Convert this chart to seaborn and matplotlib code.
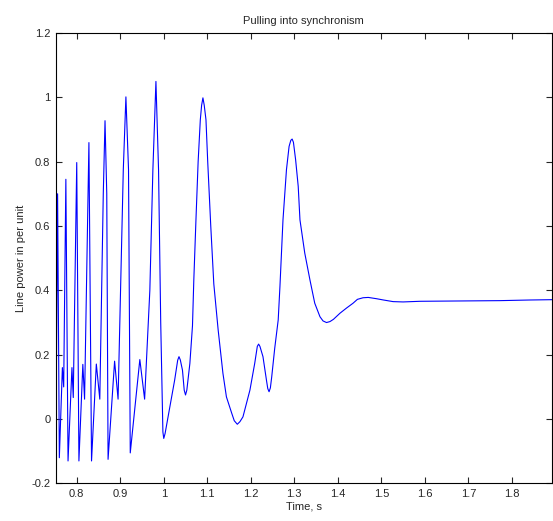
import numpy as np
import pandas as pd
import matplotlib
matplotlib.use("Agg")
import matplotlib.pyplot as plt
import seaborn as sns

# values
time_s = [0.753, 0.756, 0.760, 0.767, 0.770, 0.775, 0.780, 0.789, 0.792, 0.800,
          0.805, 0.814, 0.818, 0.828, 0.834, 0.845, 0.853, 0.861, 0.865, 0.869,
          0.872, 0.887, 0.895, 0.907, 0.913, 0.919, 0.923, 0.945, 0.956, 0.968,
          0.975, 0.982, 0.988, 0.993, 0.998, 1.000, 1.003, 1.014, 1.025, 1.032,
          1.035, 1.038, 1.043, 1.047, 1.050, 1.053, 1.060, 1.066, 1.069, 1.074,
          1.079, 1.084, 1.087, 1.090, 1.093, 1.097, 1.101, 1.108, 1.115, 1.125,
          1.136, 1.144, 1.156, 1.162, 1.169, 1.175, 1.182, 1.198, 1.209, 1.215,
          1.218, 1.221, 1.228, 1.236, 1.239, 1.242, 1.245, 1.248, 1.255, 1.263,
          1.267, 1.274, 1.282, 1.288, 1.292, 1.295, 1.298, 1.303, 1.309, 1.313,
          1.324, 1.336, 1.347, 1.359, 1.366, 1.374, 1.382, 1.390, 1.405, 1.420,
          1.435, 1.445, 1.458, 1.470, 1.489, 1.505, 1.527, 1.550, 1.589, 1.680,
          1.772, 1.841, 1.892]
power_pu = [0.10, 0.70, -0.12, 0.16, 0.10, 0.745, -0.13, 0.16, 0.067, 0.797,
            -0.13, 0.17, 0.062, 0.859, -0.13, 0.171, 0.062, 0.70, 0.927, 0.70,
            -0.125, 0.18, 0.062, 0.775, 1.001, 0.775, -0.105, 0.185, 0.062, 0.40,
            0.775, 1.049, 0.775, 0.30, -0.04, -0.06, -0.045, 0.038, 0.121, 0.183,
            0.194, 0.184, 0.152, 0.09, 0.075, 0.09, 0.173, 0.29, 0.43, 0.62,
            0.80, 0.93, 0.975, 0.998, 0.975, 0.93, 0.80, 0.60, 0.42, 0.277,
            0.142, 0.069, 0.019, -0.005, -0.016, -0.008, 0.007, 0.09, 0.173, 0.226,
            0.233, 0.226, 0.194, 0.121, 0.095, 0.085, 0.097, 0.13, 0.22, 0.308,
            0.412, 0.619, 0.775, 0.847, 0.866, 0.870, 0.860, 0.806, 0.723, 0.619,
            0.516, 0.432, 0.36, 0.318, 0.305, 0.300, 0.303, 0.310, 0.329, 0.345,
            0.360, 0.372, 0.377, 0.378, 0.374, 0.370, 0.365, 0.364, 0.366, 0.367,
            0.368, 0.370, 0.371]

x_ticks = [0.8, 0.9, 1.0, 1.1, 1.2, 1.3, 1.4, 1.5, 1.6, 1.7, 1.8]
x_labels = ["0.8", "0.9", "1", "1.1", "1.2", "1.3", "1.4", "1.5", "1.6", "1.7", "1.8"]
y_ticks = [-0.2, 0, 0.2, 0.4, 0.6, 0.8, 1.0, 1.2]
y_labels = ["-0.2", "0", "0.2", "0.4", "0.6", "0.8", "1", "1.2"]

df = pd.DataFrame({"time": time_s, "power": power_pu})

sns.set_style("ticks")
plt.rcParams["font.family"] = ["Liberation Sans", "DejaVu Sans"]

fig = plt.figure(figsize=(5.53, 5.21), dpi=100)
ax = fig.add_axes([0.101, 0.072, 0.897, 0.865])
sns.lineplot(data=df, x="time", y="power", sort=False, estimator=None,
             color="#0000ff", linewidth=0.8, ax=ax)

ax.set_xlim(0.752, 1.892)
ax.set_ylim(-0.2, 1.2)
ax.set_xticks(x_ticks)
ax.set_xticklabels(x_labels)
ax.set_yticks(y_ticks)
ax.set_yticklabels(y_labels)
ax.tick_params(direction="in", top=True, right=True, length=4, width=0.8,
               labelsize=8, pad=4)
for s in ax.spines.values():
    s.set_visible(True)
    s.set_linewidth(0.8)
    s.set_color("black")

ax.set_title("Pulling into synchronism", fontsize=8, pad=6)
ax.set_xlabel("Time, s", fontsize=8, labelpad=2)
ax.set_ylabel("Line power in per unit", fontsize=8, labelpad=4)

fig.savefig("out.png", dpi=100)
